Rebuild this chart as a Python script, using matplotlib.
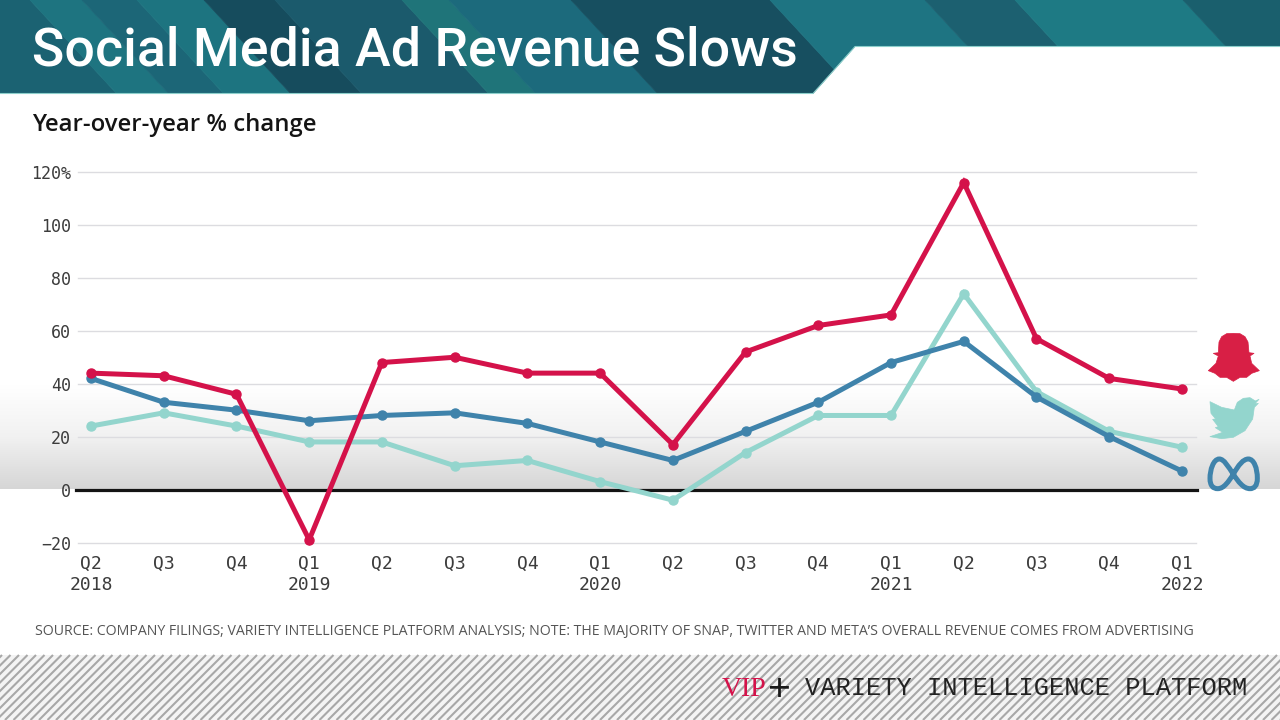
import numpy as np
import matplotlib
matplotlib.use("Agg")
import matplotlib.pyplot as plt
from matplotlib.patches import Polygon, PathPatch
from matplotlib.path import Path
from matplotlib.collections import LineCollection
from matplotlib.colors import LinearSegmentedColormap

quarters = ["Q2\n2018", "Q3", "Q4", "Q1\n2019", "Q2", "Q3", "Q4", "Q1\n2020", "Q2", "Q3", "Q4",
            "Q1\n2021", "Q2", "Q3", "Q4", "Q1\n2022"]
snap = [44, 43, 36, -19, 48, 50, 44, 44, 17, 52, 62, 66, 116, 57, 42, 38]
twitter = [24, 29, 24, 18, 18, 9, 11, 3, -4, 14, 28, 28, 74, 37, 22, 16]
meta = [42, 33, 30, 26, 28, 29, 25, 18, 11, 22, 33, 48, 56, 35, 20, 7]
y_ticks = [-20, 0, 20, 40, 60, 80, 100, 120]
y_labels = ["\u221220", "0", "20", "40", "60", "80", "100", "120%"]

RED, TEAL, BLUE = "#d4124a", "#93d5cd", "#3f83ab"
W, H = 1280, 720
SANS = "Open Sans"
MONO = "DejaVu Sans Mono"

fig = plt.figure(figsize=(12.8, 7.2), dpi=100, facecolor="white")

# Background layer in pixel coordinates
bg = fig.add_axes([0, 0, 1, 1], zorder=0)
bg.set_xlim(0, W); bg.set_ylim(H, 0); bg.axis("off")

grad = LinearSegmentedColormap.from_list("g", ["#ffffff", "#f1f1f1", "#d6d6d6"])
bg.imshow(np.linspace(0, 1, 128)[:, None], extent=[0, W, 489, 385], aspect="auto",
          cmap=grad, zorder=0)
bg.set_xlim(0, W); bg.set_ylim(H, 0)

# Header stripes: left edge at the top of the band, colour
bands = [(-120, "#1b6272"), (30, "#1e7480"), (82, "#1c6677"), (137, "#1d7480"), (204, "#164c5d"),
         (275, "#1b5a6c"), (402, "#1f7479"), (449, "#1c6a7c"), (571, "#174f60"), (770, "#1e7482"),
         (925, "#1c6070"), (1015, "#1e7a84"), (1183, "#1a5f6d"), (1400, None)]
for (a, c), (b, _) in zip(bands[:-1], bands[1:]):
    bg.add_patch(Polygon([(a, 0), (b, 0), (b + 87, 94), (a + 87, 94)], closed=True, fc=c, ec=c, lw=0.5, zorder=1))
bg.add_patch(Polygon([(855, 47), (W + 5, 47), (W + 5, 94), (813, 94)], closed=True, fc="white", ec="none", zorder=2))
bg.add_patch(Polygon([(-150, 94), (W + 100, 94), (W + 100, 150), (-150, 150)], closed=True, fc="white", ec="none", zorder=2))
bg.plot([0, 813, 855, W], [93.5, 93.5, 46.5, 46.5], color="#8ccfcb", lw=0.8, zorder=3)

# Hatched footer
bg.add_patch(Polygon([(0, 655), (W, 655), (W, H), (0, H)], closed=True, fc="#f4f4f4", ec="none", zorder=1))
starts = np.arange(-80, W + 10, 8.5)
segs = [[(x, 720), (x + 65, 655)] for x in starts]
bg.add_collection(LineCollection(segs, colors="#a8a8a8", linewidths=1.5, zorder=2))
bg.set_xlim(0, W); bg.set_ylim(H, 0)

# Chart
L, R, T, B = 78, 1196, 172, 542.5
ax = fig.add_axes([L / W, 1 - B / H, (R - L) / W, (B - T) / H], zorder=2)
ax.patch.set_alpha(0)
x = np.arange(len(quarters))
ax.set_xlim((L - 91) / 72.73, (R - 91) / 72.73)
ax.set_ylim(-20, 120)
for s in ax.spines.values():
    s.set_visible(False)
ax.set_yticks(y_ticks, y_labels, family=MONO, fontsize=12, color="#3c3c3c")
ax.set_xticks(x, quarters, family=MONO, fontsize=13, color="#3c3c3c", linespacing=1.2)
ax.tick_params(axis="both", length=0)
ax.tick_params(axis="y", pad=5)
ax.tick_params(axis="x", pad=9)
ax.grid(axis="y", color="#dcdce0", lw=1.0, zorder=1)
for gl in ax.get_ygridlines():
    gl.set_clip_on(False)
ax.grid(axis="x", visible=False)
ax.axhline(0, color="#141414", lw=2.3, zorder=2, xmin=-0.002, xmax=1.001, clip_on=False)
for vals, col, z in [(twitter, TEAL, 3), (meta, BLUE, 4), (snap, RED, 5)]:
    ax.plot(x, vals, color=col, lw=3.6, marker="o", ms=6.5, mec=col, zorder=z,
            clip_on=False, solid_joinstyle="miter")

# Overlay for text and logos
ov = fig.add_axes([0, 0, 1, 1], zorder=3)
ov.set_xlim(0, W); ov.set_ylim(H, 0); ov.axis("off"); ov.patch.set_alpha(0)

ov.text(32, 66, "Social Media Ad Revenue Slows", family="Roboto", fontsize=38.6, weight="medium",
        color="white", va="baseline", ha="left")
ov.text(32, 131, "Year-over-year % change", family=SANS, fontsize=17.2, weight="semibold",
        color="#141414", va="baseline", ha="left")
ov.text(35, 631, "SOURCE: COMPANY FILINGS; VARIETY INTELLIGENCE PLATFORM ANALYSIS; NOTE: THE MAJORITY OF SNAP, "
        "TWITTER AND META\u2019S OVERALL REVENUE COMES FROM ADVERTISING",
        family=SANS, fontsize=10.2, color="#555555", va="center", ha="left")
ov.text(722, 696, "VIP", family="Liberation Serif", fontsize=20, color=RED, va="baseline", ha="left")
ov.text(779, 702, "+", family=SANS, fontsize=29, color="#1a1a1a", va="baseline", ha="center")
ov.text(805, 695, "VARIETY INTELLIGENCE PLATFORM", family="Liberation Mono", fontsize=18.3, color="#222222",
        va="baseline", ha="left")


def px(points):
    return [(a / 3 + 1150, b / 3 + 320) for a, b in points]


# Snapchat ghost
ghost = [(250, 40), (270, 41), (285, 50), (294, 66), (297, 98), (312, 100), (300, 108), (305, 130),
         (328, 152), (305, 160), (290, 172), (270, 172), (250, 184), (230, 172), (210, 172),
         (195, 160), (175, 152), (198, 130), (205, 108), (190, 100), (205, 98), (207, 66),
         (215, 50), (230, 41)]
ov.add_patch(Polygon(px(ghost), closed=True, fc="#d81f45", ec="#d81f45", lw=0.5, joinstyle="round"))

# Twitter bird
bird = [(327, 238), (316, 243), (300, 233), (280, 235), (262, 247), (253, 270), (215, 262), (180, 245),
        (183, 280), (197, 297), (188, 298), (205, 320), (196, 323), (218, 337), (180, 350),
        (215, 356), (250, 352), (285, 332), (308, 297), (313, 262), (325, 250), (314, 252)]
ov.add_patch(Polygon(px(bird), closed=True, fc=TEAL, ec=TEAL, lw=0.5, joinstyle="round"))

# Meta logo
verts = [(250, 463), (265, 435), (280, 417), (295, 417), (312, 417), (322, 445), (322, 475),
         (322, 498), (312, 506), (300, 506), (280, 506), (265, 485), (250, 463),
         (235, 440), (222, 417), (208, 417), (190, 417), (180, 450), (180, 475),
         (180, 498), (190, 506), (203, 506), (222, 506), (235, 485), (250, 463)]
codes = [Path.MOVETO] + [Path.CURVE4] * 24
ov.add_patch(PathPatch(Path(px(verts), codes), fc="none", ec=BLUE, lw=3.6))

fig.savefig("out.png", dpi=100)
